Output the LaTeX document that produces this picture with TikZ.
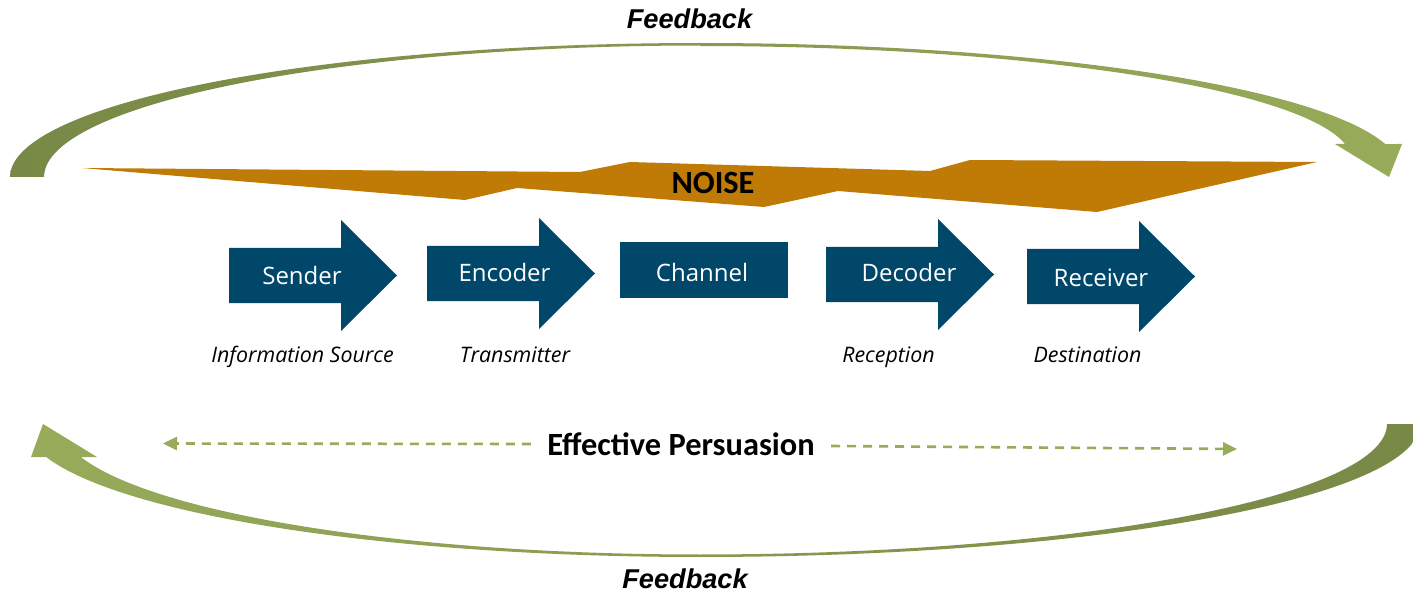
\documentclass[tikz,border=0pt]{standalone}
\usepackage{fontspec}
\setmainfont{Open Sans}
\newfontfamily\calib{Carlito}
\newfontfamily\arialf{Liberation Sans}
\usetikzlibrary{arrows.meta}
\definecolor{flowblue}{RGB}{1,71,106}
\definecolor{noiseorange}{RGB}{192,123,7}
\definecolor{olivedark}{RGB}{120,136,70}
\definecolor{olivelight}{RGB}{151,171,90}
\begin{document}
\begin{tikzpicture}[x=0.5pt,y=-0.5pt,
  boxlabel/.style={text=white,font=\fontsize{12}{14}\selectfont,inner sep=0pt,anchor=base},
  rolelabel/.style={font=\itshape\fontsize{10.7}{13}\selectfont,inner sep=0pt,anchor=base},
  feedbacklabel/.style={font=\arialf\bfseries\itshape\fontsize{13.6}{16}\selectfont,inner sep=0pt,anchor=base},
  boldlabel/.style={font=\calib\bfseries\fontsize{16.2}{19}\selectfont,inner sep=0pt},
  dasharrow/.style={draw=olivelight,line width=1.3pt,dash pattern=on 4.5pt off 3.5pt,-{Triangle[length=7pt,width=6.5pt]}},
  flowarrow/.pic={\fill[flowblue] (0,0) -- (112,0) -- (112,-28) -- (168,27.5) -- (112,83) -- (112,55) -- (0,55) -- cycle;}
]
\useasboundingbox (0,0) rectangle (1413,593);
\fill[white] (0,0) rectangle (1413,593);
\clip (0,0) rectangle (1413,593);

% upper feedback loop, left to right
\path[left color=olivedark,right color=olivelight]
  (10,177)
  -- plot[domain=180:90,samples=60] ({700+690*cos(\x)},{177-134*sin(\x)})
  -- plot[domain=90:11.81,samples=60] ({700+700*cos(\x)},{170-127*sin(\x)})
  -- (1402,144) -- (1389,177) -- (1335,144)
  -- plot[domain=8.07:90,samples=60] ({700+651.5*cos(\x)},{160-114*sin(\x)})
  -- plot[domain=90:180,samples=60] ({700+656*cos(\x)},{177-131.5*sin(\x)})
  -- cycle;

% lower feedback loop, right to left
\path[left color=olivelight,right color=olivedark]
  (47,457)
  -- plot[domain=165.6:90,samples=60] ({700+675*cos(\x)},{424+133*sin(\x)})
  -- plot[domain=90:0,samples=60] ({700+720*cos(\x)},{424+133*sin(\x)})
  -- (1387,424)
  -- plot[domain=0:90,samples=60] ({700+687*cos(\x)},{424+130.5*sin(\x)})
  -- plot[domain=90:165.35,samples=60] ({700+640*cos(\x)},{424+130.5*sin(\x)})
  -- (97,457) -- (43,424) -- (31,457) -- cycle;

% noise band
\fill[noiseorange] (82,168) -- (580,172) -- (630,162) -- (930,171) -- (970,160)
  -- (1317,162) -- (1097,212) -- (838,191) -- (764,207) -- (517,188) -- (465,200) -- cycle;
\node[boldlabel,anchor=base] (noise) at (713,194) {NOISE};

% process chain
\pic at (229,248) {flowarrow};
\pic at (427,246) {flowarrow};
\fill[flowblue] (620,242) rectangle (788,298);
\pic at (826,247) {flowarrow};
\pic at (1027,249) {flowarrow};

\node[boxlabel] (sender) at (302,285) {Sender};
\node[boxlabel] (encoder) at (504.5,281) {Encoder};
\node[boxlabel] (channel) at (702,281) {Channel};
\node[boxlabel] (decoder) at (909,282) {Decoder};
\node[boxlabel] (receiver) at (1101,286) {Receiver};

\node[rolelabel] (source) at (302.5,362) {Information Source};
\node[rolelabel] (transmitter) at (515,362) {Transmitter};
\node[rolelabel] (reception) at (888.5,362) {Reception};
\node[rolelabel] (destination) at (1087.5,362) {Destination};

% persuasion span
\node[boldlabel] (ep) at (681,444) {Effective Persuasion};
\coordinate (epL) at (163,443.5);
\coordinate (epR) at (1237,449);
\draw[dasharrow] ([xshift=-8pt]ep.west) -- (epL);
\draw[dasharrow] ([xshift=8pt,yshift=-1pt]ep.east) -- (epR);

\node[feedbacklabel] (fbtop) at (689.5,29) {Feedback};
\node[feedbacklabel] (fbbottom) at (685,588) {Feedback};
\end{tikzpicture}
\end{document}
